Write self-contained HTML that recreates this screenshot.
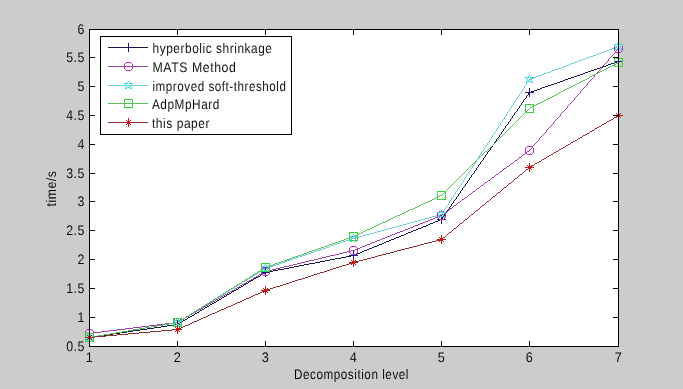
<!DOCTYPE html>
<html><head><meta charset="utf-8"><style>
html,body{margin:0;padding:0;background:#cccccc;}
body{width:683px;height:389px;overflow:hidden;}
svg{display:block;}
svg{will-change:transform;}
text{text-rendering:geometricPrecision;font-family:"Liberation Sans",sans-serif;font-size:12.0px;letter-spacing:0.55px;fill:#000;}
</style></head><body>
<svg width="683" height="389" viewBox="0 0 683 389">
<rect x="0" y="0" width="683" height="389" fill="#cccccc"/>
<rect x="89.5" y="29.5" width="529" height="317" fill="#ffffff"/>
<g shape-rendering="crispEdges">
<path d="M384 242h2v1h-2zM222 297h2v1h-2zM214 302h2v1h-2zM571 77h3v1h-3zM330 259h5v1h-5zM278 269h6v1h-6zM462 188h1v1h-1zM227 294h2v1h-2zM594 69h3v1h-3zM351 255h4v1h-4zM474 171h1v1h-1zM521 103h1v1h-1zM389 240h2v1h-2zM486 154h1v1h-1zM188 317h2v1h-2zM498 137h1v1h-1zM180 322h2v1h-2zM120 332h7v1h-7zM426 225h2v1h-2zM446 212h1v1h-1zM493 144h1v1h-1zM449 208h1v1h-1zM299 265h5v1h-5zM265 272h3v1h-3zM458 195h1v1h-1zM505 127h1v1h-1zM161 326h6v1h-6zM560 81h3v1h-3zM517 110h1v1h-1zM106 334h7v1h-7zM583 73h2v1h-2zM364 250h3v1h-3zM453 201h1v1h-1zM554 83h3v1h-3zM465 184h1v1h-1zM379 244h3v1h-3zM273 270h5v1h-5zM219 299h2v1h-2zM284 268h5v1h-5zM477 167h1v1h-1zM411 231h2v1h-2zM210 304h2v1h-2zM565 79h3v1h-3zM346 256h5v1h-5zM202 309h2v1h-2zM588 71h3v1h-3zM167 325h7v1h-7zM374 246h3v1h-3zM406 233h2v1h-2zM113 333h7v1h-7zM540 88h2v1h-2zM249 281h2v1h-2zM241 286h2v1h-2zM294 266h5v1h-5zM174 324h4v1h-4zM421 227h2v1h-2zM315 262h5v1h-5zM100 335h6v1h-6zM391 239h3v1h-3zM600 67h3v1h-3zM449 207h1v1h-1zM551 84h3v1h-3zM93 336h7v1h-7zM320 261h5v1h-5zM505 126h1v1h-1zM461 190h1v1h-1zM360 252h2v1h-2zM577 75h3v1h-3zM268 271h5v1h-5zM341 257h5v1h-5zM473 173h1v1h-1zM517 109h1v1h-1zM520 105h1v1h-1zM529 92h2v1h-2zM396 237h3v1h-3zM468 180h1v1h-1zM433 222h2v1h-2zM207 306h2v1h-2zM480 163h1v1h-1zM617 61h2v1h-2zM199 311h1v1h-1zM489 150h1v1h-1zM557 82h3v1h-3zM492 146h1v1h-1zM190 316h2v1h-2zM501 133h1v1h-1zM147 328h7v1h-7zM401 235h3v1h-3zM611 63h3v1h-3zM534 90h3v1h-3zM309 263h6v1h-6zM229 293h2v1h-2zM563 80h2v1h-2zM140 329h7v1h-7zM452 203h1v1h-1zM496 139h1v1h-1zM386 241h3v1h-3zM508 122h1v1h-1zM574 76h3v1h-3zM523 101h1v1h-1zM335 258h6v1h-6zM545 86h3v1h-3zM382 243h2v1h-2zM154 327h7v1h-7zM263 273h2v1h-2zM568 78h3v1h-3zM428 224h2v1h-2zM585 72h3v1h-3zM367 249h2v1h-2zM260 275h1v1h-1zM195 313h2v1h-2zM608 64h3v1h-3zM187 318h1v1h-1zM178 323h2v1h-2zM480 162h1v1h-1zM221 298h1v1h-1zM413 230h3v1h-3zM212 303h2v1h-2zM492 145h1v1h-1zM504 128h1v1h-1zM591 70h3v1h-3zM516 111h1v1h-1zM217 300h2v1h-2zM408 232h3v1h-3zM614 62h3v1h-3zM289 267h5v1h-5zM440 219h2v1h-2zM464 186h1v1h-1zM542 87h3v1h-3zM418 228h3v1h-3zM476 169h1v1h-1zM597 68h3v1h-3zM523 100h1v1h-1zM133 330h7v1h-7zM251 280h2v1h-2zM471 175h1v1h-1zM423 226h3v1h-3zM483 158h1v1h-1zM580 74h3v1h-3zM362 251h2v1h-2zM256 277h2v1h-2zM448 209h1v1h-1zM127 331h6v1h-6zM248 282h1v1h-1zM394 238h2v1h-2zM495 141h1v1h-1zM603 66h3v1h-3zM183 320h2v1h-2zM507 124h1v1h-1zM531 91h3v1h-3zM304 264h5v1h-5zM519 107h1v1h-1zM357 253h3v1h-3zM325 260h5v1h-5zM455 199h1v1h-1zM209 305h1v1h-1zM197 312h2v1h-2zM200 310h2v1h-2zM467 182h1v1h-1zM404 234h2v1h-2zM205 307h2v1h-2zM435 221h3v1h-3zM537 89h3v1h-3zM239 287h2v1h-2zM416 229h2v1h-2zM244 284h2v1h-2zM236 289h2v1h-2zM89 337h4v1h-4zM548 85h3v1h-3zM261 274h2v1h-2zM185 319h2v1h-2zM519 106h1v1h-1zM467 181h1v1h-1zM514 113h1v1h-1zM430 223h3v1h-3zM369 248h3v1h-3zM479 164h1v1h-1zM526 96h1v1h-1zM491 147h1v1h-1zM494 143h1v1h-1zM503 130h1v1h-1zM442 218h1v1h-1zM451 205h1v1h-1zM510 120h1v1h-1zM232 291h2v1h-2zM224 296h2v1h-2zM458 194h1v1h-1zM258 276h2v1h-2zM470 177h1v1h-1zM482 160h1v1h-1zM606 65h2v1h-2zM438 220h2v1h-2zM494 142h1v1h-1zM442 217h1v1h-1zM216 301h1v1h-1zM451 204h1v1h-1zM454 200h1v1h-1zM463 187h1v1h-1zM510 119h1v1h-1zM466 183h1v1h-1zM377 245h2v1h-2zM513 115h1v1h-1zM522 102h1v1h-1zM478 166h1v1h-1zM525 98h1v1h-1zM254 278h2v1h-2zM490 149h1v1h-1zM246 283h2v1h-2zM485 156h1v1h-1zM445 213h1v1h-1zM372 247h2v1h-2zM457 196h1v1h-1zM501 132h1v1h-1zM469 179h1v1h-1zM528 94h1v1h-1zM204 308h1v1h-1zM238 288h1v1h-1zM234 290h2v1h-2zM485 155h1v1h-1zM497 138h1v1h-1zM509 121h1v1h-1zM521 104h1v1h-1zM399 236h2v1h-2zM469 178h1v1h-1zM481 161h1v1h-1zM528 93h1v1h-1zM226 295h1v1h-1zM476 168h1v1h-1zM488 151h1v1h-1zM453 202h1v1h-1zM500 134h1v1h-1zM465 185h1v1h-1zM512 117h1v1h-1zM460 192h1v1h-1zM253 279h1v1h-1zM444 215h1v1h-1zM456 198h1v1h-1zM194 314h1v1h-1zM512 116h1v1h-1zM524 99h1v1h-1zM460 191h1v1h-1zM472 174h1v1h-1zM355 254h2v1h-2zM475 170h1v1h-1zM484 157h1v1h-1zM487 153h1v1h-1zM496 140h1v1h-1zM499 136h1v1h-1zM508 123h1v1h-1zM447 211h1v1h-1zM444 214h1v1h-1zM456 197h1v1h-1zM182 321h1v1h-1zM503 129h1v1h-1zM506 125h1v1h-1zM515 112h1v1h-1zM527 95h1v1h-1zM487 152h1v1h-1zM499 135h1v1h-1zM511 118h1v1h-1zM243 285h1v1h-1zM447 210h1v1h-1zM459 193h1v1h-1zM471 176h1v1h-1zM518 108h1v1h-1zM483 159h1v1h-1zM478 165h1v1h-1zM490 148h1v1h-1zM502 131h1v1h-1zM450 206h1v1h-1zM462 189h1v1h-1zM474 172h1v1h-1zM192 315h2v1h-2zM443 216h1v1h-1zM514 114h1v1h-1zM231 292h1v1h-1zM526 97h1v1h-1z" fill="#16164c"/>
<path d="M547 129h1v1h-1zM276 268h4v1h-4zM567 107h1v1h-1zM500 171h2v1h-2zM570 103h1v1h-1zM523 154h2v1h-2zM89 333h4v1h-4zM606 62h1v1h-1zM425 221h3v1h-3zM504 168h2v1h-2zM527 151h2v1h-2zM400 231h3v1h-3zM239 286h1v1h-1zM410 227h3v1h-3zM265 271h3v1h-3zM125 328h8v1h-8zM457 203h1v1h-1zM199 309h2v1h-2zM598 71h1v1h-1zM539 138h1v1h-1zM461 200h1v1h-1zM204 306h2v1h-2zM405 229h3v1h-3zM559 116h1v1h-1zM117 329h8v1h-8zM133 327h8v1h-8zM196 311h1v1h-1zM442 214h2v1h-2zM351 250h4v1h-4zM165 323h8v1h-8zM230 291h2v1h-2zM420 223h3v1h-3zM531 148h1v1h-1zM101 331h8v1h-8zM609 58h1v1h-1zM335 254h4v1h-4zM157 324h8v1h-8zM93 332h8v1h-8zM322 257h4v1h-4zM567 106h1v1h-1zM590 80h1v1h-1zM339 253h4v1h-4zM141 326h8v1h-8zM395 233h2v1h-2zM256 276h2v1h-2zM173 322h5v1h-5zM365 245h2v1h-2zM284 266h5v1h-5zM476 189h1v1h-1zM433 218h2v1h-2zM261 273h2v1h-2zM562 112h1v1h-1zM109 330h8v1h-8zM499 172h1v1h-1zM253 278h1v1h-1zM301 262h4v1h-4zM187 316h2v1h-2zM380 239h2v1h-2zM480 186h1v1h-1zM465 197h2v1h-2zM601 67h1v1h-1zM347 251h4v1h-4zM446 211h2v1h-2zM192 313h2v1h-2zM438 216h2v1h-2zM469 194h2v1h-2zM184 318h1v1h-1zM375 241h2v1h-2zM149 325h8v1h-8zM272 269h4v1h-4zM582 89h1v1h-1zM593 77h1v1h-1zM309 260h5v1h-5zM206 305h2v1h-2zM289 265h4v1h-4zM197 310h2v1h-2zM355 249h2v1h-2zM554 121h1v1h-1zM574 99h1v1h-1zM577 95h1v1h-1zM218 298h2v1h-2zM613 54h1v1h-1zM244 283h2v1h-2zM297 263h4v1h-4zM360 247h2v1h-2zM546 131h1v1h-1zM549 127h1v1h-1zM518 158h1v1h-1zM428 220h2v1h-2zM503 169h1v1h-1zM249 280h2v1h-2zM397 232h3v1h-3zM484 183h1v1h-1zM585 86h1v1h-1zM240 285h2v1h-2zM608 60h1v1h-1zM507 166h2v1h-2zM488 180h2v1h-2zM305 261h4v1h-4zM511 163h2v1h-2zM180 320h2v1h-2zM330 255h5v1h-5zM408 228h2v1h-2zM448 210h1v1h-1zM194 312h2v1h-2zM440 215h2v1h-2zM268 270h4v1h-4zM377 240h3v1h-3zM418 224h2v1h-2zM538 140h1v1h-1zM616 50h1v1h-1zM452 207h1v1h-1zM387 236h3v1h-3zM293 264h4v1h-4zM413 226h2v1h-2zM318 258h4v1h-4zM382 238h3v1h-3zM522 155h1v1h-1zM232 290h2v1h-2zM392 234h3v1h-3zM526 152h1v1h-1zM546 130h1v1h-1zM237 287h2v1h-2zM280 267h4v1h-4zM569 104h1v1h-1zM228 292h2v1h-2zM367 244h3v1h-3zM530 149h1v1h-1zM605 63h1v1h-1zM608 59h1v1h-1zM541 136h1v1h-1zM467 196h1v1h-1zM490 179h1v1h-1zM190 314h2v1h-2zM580 91h1v1h-1zM435 217h3v1h-3zM600 69h1v1h-1zM263 272h2v1h-2zM603 65h1v1h-1zM182 319h2v1h-2zM372 242h3v1h-3zM471 193h1v1h-1zM456 204h1v1h-1zM494 176h1v1h-1zM475 190h1v1h-1zM259 274h2v1h-2zM561 113h1v1h-1zM533 145h1v1h-1zM415 225h3v1h-3zM553 123h1v1h-1zM385 237h2v1h-2zM225 294h2v1h-2zM362 246h3v1h-3zM592 78h1v1h-1zM216 299h2v1h-2zM615 52h1v1h-1zM251 279h2v1h-2zM357 248h3v1h-3zM509 165h1v1h-1zM564 110h1v1h-1zM587 84h1v1h-1zM430 219h3v1h-3zM178 321h2v1h-2zM513 162h1v1h-1zM498 173h1v1h-1zM326 256h4v1h-4zM479 187h1v1h-1zM545 132h1v1h-1zM502 170h1v1h-1zM584 87h1v1h-1zM595 74h1v1h-1zM556 119h1v1h-1zM314 259h4v1h-4zM221 296h2v1h-2zM213 301h2v1h-2zM553 122h1v1h-1zM247 281h2v1h-2zM235 288h2v1h-2zM551 125h1v1h-1zM227 293h1v1h-1zM615 51h1v1h-1zM548 128h1v1h-1zM517 159h1v1h-1zM423 222h2v1h-2zM532 147h1v1h-1zM587 83h1v1h-1zM607 61h1v1h-1zM521 156h1v1h-1zM370 243h2v1h-2zM450 208h2v1h-2zM579 93h1v1h-1zM473 191h2v1h-2zM618 48h1v1h-1zM454 205h2v1h-2zM540 137h1v1h-1zM209 303h2v1h-2zM189 315h1v1h-1zM599 70h1v1h-1zM223 295h2v1h-2zM215 300h1v1h-1zM571 102h1v1h-1zM594 76h1v1h-1zM610 57h1v1h-1zM543 134h1v1h-1zM566 108h1v1h-1zM403 230h2v1h-2zM492 177h2v1h-2zM477 188h2v1h-2zM458 202h2v1h-2zM258 275h1v1h-1zM343 252h4v1h-4zM481 185h2v1h-2zM462 199h2v1h-2zM563 111h1v1h-1zM574 98h1v1h-1zM211 302h2v1h-2zM535 143h1v1h-1zM203 307h1v1h-1zM558 117h1v1h-1zM515 160h2v1h-2zM594 75h1v1h-1zM496 174h2v1h-2zM519 157h2v1h-2zM254 277h2v1h-2zM586 85h1v1h-1zM246 282h1v1h-1zM602 66h1v1h-1zM597 72h1v1h-1zM445 212h1v1h-1zM555 120h1v1h-1zM449 209h1v1h-1zM578 94h1v1h-1zM550 126h1v1h-1zM390 235h2v1h-2zM573 100h1v1h-1zM589 81h1v1h-1zM242 284h2v1h-2zM234 289h1v1h-1zM460 201h1v1h-1zM483 184h1v1h-1zM506 167h1v1h-1zM464 198h1v1h-1zM487 181h1v1h-1zM542 135h1v1h-1zM617 49h1v1h-1zM468 195h1v1h-1zM453 206h1v1h-1zM565 109h1v1h-1zM601 68h1v1h-1zM537 141h1v1h-1zM612 55h1v1h-1zM525 153h1v1h-1zM491 178h1v1h-1zM581 90h1v1h-1zM604 64h1v1h-1zM472 192h1v1h-1zM495 175h1v1h-1zM201 308h2v1h-2zM576 96h1v1h-1zM534 144h1v1h-1zM557 118h1v1h-1zM596 73h1v1h-1zM529 150h1v1h-1zM532 146h1v1h-1zM552 124h1v1h-1zM510 164h1v1h-1zM568 105h1v1h-1zM514 161h1v1h-1zM560 115h1v1h-1zM185 317h2v1h-2zM544 133h1v1h-1zM444 213h1v1h-1zM580 92h1v1h-1zM591 79h1v1h-1zM220 297h1v1h-1zM588 82h1v1h-1zM611 56h1v1h-1zM485 182h2v1h-2zM560 114h1v1h-1zM583 88h1v1h-1zM539 139h1v1h-1zM614 53h1v1h-1zM536 142h1v1h-1zM208 304h1v1h-1zM572 101h1v1h-1zM575 97h1v1h-1z" fill="#9c44a8"/>
<path d="M343 241h3v1h-3zM265 268h2v1h-2zM287 260h3v1h-3zM169 323h6v1h-6zM261 270h2v1h-2zM463 180h1v1h-1zM486 145h1v1h-1zM466 176h1v1h-1zM122 331h6v1h-6zM587 57h3v1h-3zM366 234h4v1h-4zM349 239h3v1h-3zM157 325h6v1h-6zM526 83h1v1h-1zM299 256h3v1h-3zM571 63h3v1h-3zM211 301h2v1h-2zM470 169h1v1h-1zM450 200h1v1h-1zM473 165h1v1h-1zM311 252h3v1h-3zM593 55h3v1h-3zM355 237h4v1h-4zM282 262h3v1h-3zM128 330h5v1h-5zM513 103h1v1h-1zM305 254h3v1h-3zM522 90h1v1h-1zM410 222h4v1h-4zM457 189h1v1h-1zM544 73h3v1h-3zM163 324h6v1h-6zM253 275h2v1h-2zM392 227h4v1h-4zM446 207h1v1h-1zM133 329h6v1h-6zM245 280h2v1h-2zM363 235h3v1h-3zM429 217h3v1h-3zM258 272h2v1h-2zM614 47h3v1h-3zM151 326h6v1h-6zM250 277h2v1h-2zM529 79h2v1h-2zM509 110h1v1h-1zM582 59h3v1h-3zM323 248h3v1h-3zM555 69h3v1h-3zM453 196h1v1h-1zM609 49h3v1h-3zM399 225h4v1h-4zM145 327h6v1h-6zM273 265h3v1h-3zM566 65h3v1h-3zM317 250h3v1h-3zM199 308h2v1h-2zM493 134h1v1h-1zM516 99h1v1h-1zM191 313h2v1h-2zM374 232h3v1h-3zM92 336h6v1h-6zM183 318h2v1h-2zM267 267h3v1h-3zM334 244h3v1h-3zM482 151h1v1h-1zM110 333h6v1h-6zM237 285h2v1h-2zM539 75h3v1h-3zM217 297h2v1h-2zM480 154h1v1h-1zM209 302h2v1h-2zM489 141h1v1h-1zM242 282h1v1h-1zM525 85h1v1h-1zM381 230h4v1h-4zM234 287h1v1h-1zM222 294h2v1h-2zM340 242h3v1h-3zM469 171h1v1h-1zM449 202h1v1h-1zM436 215h4v1h-4zM290 259h3v1h-3zM418 220h3v1h-3zM175 322h3v1h-3zM116 332h6v1h-6zM260 271h1v1h-1zM476 161h1v1h-1zM314 251h3v1h-3zM509 109h1v1h-1zM521 92h1v1h-1zM552 70h3v1h-3zM370 233h4v1h-4zM453 195h1v1h-1zM346 240h3v1h-3zM558 68h3v1h-3zM188 315h2v1h-2zM104 334h6v1h-6zM180 320h2v1h-2zM296 257h3v1h-3zM425 218h4v1h-4zM329 246h2v1h-2zM536 76h3v1h-3zM590 56h3v1h-3zM505 116h1v1h-1zM201 307h2v1h-2zM528 81h1v1h-1zM352 238h3v1h-3zM193 312h2v1h-2zM279 263h3v1h-3zM226 292h1v1h-1zM563 66h3v1h-3zM214 299h2v1h-2zM206 304h2v1h-2zM302 255h3v1h-3zM531 78h3v1h-3zM198 309h1v1h-1zM230 289h2v1h-2zM574 62h3v1h-3zM489 140h1v1h-1zM512 105h1v1h-1zM547 72h3v1h-3zM492 136h1v1h-1zM252 276h1v1h-1zM601 52h3v1h-3zM359 236h4v1h-4zM243 281h2v1h-2zM569 64h2v1h-2zM235 286h2v1h-2zM456 191h1v1h-1zM612 48h2v1h-2zM308 253h3v1h-3zM407 223h3v1h-3zM248 278h2v1h-2zM98 335h6v1h-6zM585 58h2v1h-2zM496 129h1v1h-1zM476 160h1v1h-1zM499 125h1v1h-1zM139 328h6v1h-6zM606 50h3v1h-3zM432 216h4v1h-4zM617 46h2v1h-2zM388 228h4v1h-4zM190 314h1v1h-1zM483 149h1v1h-1zM182 319h1v1h-1zM472 167h1v1h-1zM528 80h1v1h-1zM440 214h2v1h-2zM421 219h4v1h-4zM452 197h1v1h-1zM396 226h3v1h-3zM542 74h2v1h-2zM596 54h2v1h-2zM377 231h4v1h-4zM240 283h2v1h-2zM337 243h3v1h-3zM232 288h2v1h-2zM479 156h1v1h-1zM459 187h1v1h-1zM492 135h1v1h-1zM224 293h2v1h-2zM524 87h1v1h-1zM579 60h3v1h-3zM448 204h1v1h-1zM320 249h3v1h-3zM385 229h3v1h-3zM443 211h1v1h-1zM270 266h3v1h-3zM508 111h1v1h-1zM488 142h1v1h-1zM511 107h1v1h-1zM293 258h3v1h-3zM577 61h2v1h-2zM186 316h2v1h-2zM178 321h2v1h-2zM326 247h3v1h-3zM414 221h4v1h-4zM276 264h3v1h-3zM515 100h1v1h-1zM472 166h1v1h-1zM89 337h3v1h-3zM495 131h1v1h-1zM475 162h1v1h-1zM561 67h2v1h-2zM216 298h1v1h-1zM208 303h1v1h-1zM502 121h1v1h-1zM598 53h3v1h-3zM479 155h1v1h-1zM459 186h1v1h-1zM502 120h1v1h-1zM403 224h4v1h-4zM491 138h1v1h-1zM550 71h2v1h-2zM604 51h2v1h-2zM466 175h1v1h-1zM498 127h1v1h-1zM455 193h1v1h-1zM478 158h1v1h-1zM534 77h2v1h-2zM518 96h1v1h-1zM204 305h2v1h-2zM196 310h2v1h-2zM462 182h1v1h-1zM442 213h1v1h-1zM527 82h1v1h-1zM522 89h1v1h-1zM446 206h1v1h-1zM285 261h2v1h-2zM491 137h1v1h-1zM494 133h1v1h-1zM239 284h1v1h-1zM478 157h1v1h-1zM498 126h1v1h-1zM485 147h1v1h-1zM442 212h1v1h-1zM474 164h1v1h-1zM514 102h1v1h-1zM449 201h1v1h-1zM458 188h1v1h-1zM481 153h1v1h-1zM331 245h3v1h-3zM461 184h1v1h-1zM227 291h2v1h-2zM521 91h1v1h-1zM465 177h1v1h-1zM445 208h1v1h-1zM485 146h1v1h-1zM517 98h1v1h-1zM219 296h2v1h-2zM501 122h1v1h-1zM504 118h1v1h-1zM203 306h1v1h-1zM481 152h1v1h-1zM461 183h1v1h-1zM257 273h1v1h-1zM468 173h1v1h-1zM477 159h1v1h-1zM457 190h1v1h-1zM517 97h1v1h-1zM497 128h1v1h-1zM520 93h1v1h-1zM195 311h1v1h-1zM524 86h1v1h-1zM504 117h1v1h-1zM448 203h1v1h-1zM229 290h1v1h-1zM511 106h1v1h-1zM468 172h1v1h-1zM500 124h1v1h-1zM444 210h1v1h-1zM484 148h1v1h-1zM507 113h1v1h-1zM464 179h1v1h-1zM487 144h1v1h-1zM221 295h1v1h-1zM213 300h1v1h-1zM471 168h1v1h-1zM263 269h2v1h-2zM455 192h1v1h-1zM255 274h2v1h-2zM500 123h1v1h-1zM523 88h1v1h-1zM444 209h1v1h-1zM451 199h1v1h-1zM507 112h1v1h-1zM464 178h1v1h-1zM487 143h1v1h-1zM496 130h1v1h-1zM519 95h1v1h-1zM185 317h1v1h-1zM494 132h1v1h-1zM503 119h1v1h-1zM460 185h1v1h-1zM247 279h1v1h-1zM483 150h1v1h-1zM506 115h1v1h-1zM467 174h1v1h-1zM447 205h1v1h-1zM490 139h1v1h-1zM451 198h1v1h-1zM474 163h1v1h-1zM454 194h1v1h-1zM463 181h1v1h-1zM519 94h1v1h-1zM526 84h1v1h-1zM470 170h1v1h-1zM506 114h1v1h-1zM515 101h1v1h-1zM510 108h1v1h-1zM513 104h1v1h-1z" fill="#6ed0d4"/>
<path d="M612 65h2v1h-2zM318 248h3v1h-3zM395 216h2v1h-2zM505 132h1v1h-1zM438 196h2v1h-2zM571 86h2v1h-2zM270 265h3v1h-3zM169 323h6v1h-6zM474 162h1v1h-1zM443 193h1v1h-1zM430 200h2v1h-2zM122 331h6v1h-6zM357 234h2v1h-2zM400 214h2v1h-2zM157 325h6v1h-6zM585 79h2v1h-2zM493 144h1v1h-1zM275 263h3v1h-3zM406 211h2v1h-2zM341 240h3v1h-3zM590 76h2v1h-2zM372 227h2v1h-2zM581 81h2v1h-2zM462 174h1v1h-1zM292 257h3v1h-3zM540 102h2v1h-2zM128 330h5v1h-5zM261 269h2v1h-2zM315 249h3v1h-3zM367 229h3v1h-3zM521 116h1v1h-1zM253 274h2v1h-2zM410 209h3v1h-3zM346 238h3v1h-3zM287 259h3v1h-3zM608 67h2v1h-2zM391 218h2v1h-2zM163 324h6v1h-6zM133 329h6v1h-6zM567 88h2v1h-2zM265 267h2v1h-2zM481 155h1v1h-1zM450 186h1v1h-1zM387 220h2v1h-2zM425 202h3v1h-3zM151 326h6v1h-6zM352 236h3v1h-3zM563 90h2v1h-2zM509 128h1v1h-1zM304 253h3v1h-3zM145 327h6v1h-6zM500 137h1v1h-1zM327 245h2v1h-2zM402 213h2v1h-2zM469 167h1v1h-1zM199 308h2v1h-2zM577 83h2v1h-2zM191 313h2v1h-2zM92 336h6v1h-6zM183 318h2v1h-2zM536 104h2v1h-2zM528 109h1v1h-1zM309 251h3v1h-3zM497 140h1v1h-1zM110 333h6v1h-6zM421 204h2v1h-2zM604 69h2v1h-2zM488 149h1v1h-1zM338 241h3v1h-3zM457 179h1v1h-1zM554 95h2v1h-2zM349 237h3v1h-3zM221 294h2v1h-2zM600 71h2v1h-2zM382 222h3v1h-3zM321 247h3v1h-3zM559 92h2v1h-2zM516 121h1v1h-1zM550 97h2v1h-2zM344 239h2v1h-2zM267 266h3v1h-3zM175 322h3v1h-3zM116 332h6v1h-6zM432 199h2v1h-2zM295 256h3v1h-3zM565 89h2v1h-2zM397 215h3v1h-3zM445 191h1v1h-1zM573 85h2v1h-2zM188 315h1v1h-1zM104 334h6v1h-6zM180 320h1v1h-1zM278 262h3v1h-3zM504 133h1v1h-1zM569 87h2v1h-2zM417 206h2v1h-2zM332 243h3v1h-3zM213 299h2v1h-2zM542 101h2v1h-2zM205 304h2v1h-2zM237 284h2v1h-2zM197 309h2v1h-2zM284 260h3v1h-3zM229 289h2v1h-2zM370 228h2v1h-2zM413 208h2v1h-2zM218 296h2v1h-2zM596 73h2v1h-2zM210 301h2v1h-2zM523 114h1v1h-1zM492 145h1v1h-1zM546 99h2v1h-2zM263 268h2v1h-2zM255 273h2v1h-2zM247 278h2v1h-2zM428 201h2v1h-2zM290 258h2v1h-2zM98 335h6v1h-6zM561 91h2v1h-2zM452 184h1v1h-1zM260 270h1v1h-1zM476 160h1v1h-1zM312 250h3v1h-3zM139 328h6v1h-6zM616 63h2v1h-2zM301 254h3v1h-3zM511 126h1v1h-1zM329 244h3v1h-3zM579 82h2v1h-2zM189 314h2v1h-2zM181 319h2v1h-2zM538 103h2v1h-2zM202 306h2v1h-2zM464 172h1v1h-1zM194 311h2v1h-2zM226 291h2v1h-2zM592 75h2v1h-2zM335 242h3v1h-3zM499 138h1v1h-1zM239 283h2v1h-2zM231 288h2v1h-2zM598 72h2v1h-2zM223 293h2v1h-2zM252 275h1v1h-1zM244 280h1v1h-1zM236 285h1v1h-1zM483 153h1v1h-1zM548 98h2v1h-2zM487 150h1v1h-1zM324 246h3v1h-3zM575 84h2v1h-2zM186 316h2v1h-2zM178 321h2v1h-2zM534 105h2v1h-2zM471 165h1v1h-1zM298 255h3v1h-3zM89 337h3v1h-3zM440 195h2v1h-2zM506 131h1v1h-1zM530 107h2v1h-2zM215 298h2v1h-2zM207 303h2v1h-2zM281 261h3v1h-3zM228 290h1v1h-1zM594 74h2v1h-2zM220 295h1v1h-1zM459 177h1v1h-1zM544 100h2v1h-2zM456 180h1v1h-1zM494 143h1v1h-1zM518 119h1v1h-1zM378 224h2v1h-2zM618 62h1v1h-1zM478 158h1v1h-1zM447 189h1v1h-1zM444 192h1v1h-1zM436 197h2v1h-2zM212 300h1v1h-1zM363 231h2v1h-2zM204 305h1v1h-1zM196 310h1v1h-1zM532 106h2v1h-2zM466 170h1v1h-1zM587 78h2v1h-2zM525 112h1v1h-1zM245 279h2v1h-2zM374 226h2v1h-2zM258 271h2v1h-2zM250 276h2v1h-2zM614 64h2v1h-2zM454 182h1v1h-1zM423 203h2v1h-2zM610 66h2v1h-2zM513 124h1v1h-1zM273 264h2v1h-2zM393 217h2v1h-2zM385 221h2v1h-2zM473 163h1v1h-1zM442 194h1v1h-1zM365 230h2v1h-2zM408 210h2v1h-2zM583 80h2v1h-2zM463 173h1v1h-1zM193 312h1v1h-1zM307 252h2v1h-2zM242 281h2v1h-2zM404 212h2v1h-2zM234 286h2v1h-2zM461 175h1v1h-1zM485 151h2v1h-2zM419 205h2v1h-2zM482 154h1v1h-1zM451 185h1v1h-1zM520 117h1v1h-1zM606 68h2v1h-2zM389 219h2v1h-2zM449 187h1v1h-1zM501 136h1v1h-1zM361 232h2v1h-2zM470 166h1v1h-1zM380 223h2v1h-2zM589 77h1v1h-1zM489 148h1v1h-1zM458 178h1v1h-1zM376 225h2v1h-2zM415 207h2v1h-2zM508 129h1v1h-1zM480 156h1v1h-1zM434 198h2v1h-2zM477 159h1v1h-1zM446 190h1v1h-1zM558 93h1v1h-1zM527 110h1v1h-1zM496 141h1v1h-1zM468 168h1v1h-1zM465 171h1v1h-1zM524 113h1v1h-1zM515 122h1v1h-1zM257 272h1v1h-1zM249 277h1v1h-1zM241 282h1v1h-1zM453 183h1v1h-1zM512 125h1v1h-1zM503 134h1v1h-1zM475 161h1v1h-1zM359 233h2v1h-2zM491 146h1v1h-1zM233 287h1v1h-1zM225 292h1v1h-1zM217 297h1v1h-1zM484 152h1v1h-1zM519 118h1v1h-1zM448 188h1v1h-1zM355 235h2v1h-2zM472 164h1v1h-1zM507 130h1v1h-1zM185 317h1v1h-1zM209 302h1v1h-1zM498 139h1v1h-1zM201 307h1v1h-1zM522 115h1v1h-1zM460 176h1v1h-1zM495 142h1v1h-1zM552 96h2v1h-2zM510 127h1v1h-1zM556 94h2v1h-2zM479 157h1v1h-1zM602 70h2v1h-2zM529 108h1v1h-1zM467 169h1v1h-1zM502 135h1v1h-1zM526 111h1v1h-1zM517 120h1v1h-1zM455 181h1v1h-1zM490 147h1v1h-1zM514 123h1v1h-1z" fill="#5ebe5e"/>
<path d="M457 226h1v1h-1zM394 251h3v1h-3zM298 279h4v1h-4zM446 235h1v1h-1zM276 286h4v1h-4zM150 331h11v1h-11zM375 256h3v1h-3zM436 240h4v1h-4zM547 156h2v1h-2zM117 334h11v1h-11zM539 161h2v1h-2zM460 223h2v1h-2zM181 327h2v1h-2zM333 268h3v1h-3zM311 275h3v1h-3zM561 148h2v1h-2zM260 292h2v1h-2zM95 336h11v1h-11zM401 249h4v1h-4zM305 277h3v1h-3zM382 254h4v1h-4zM221 309h3v1h-3zM424 243h4v1h-4zM573 141h2v1h-2zM339 266h3v1h-3zM231 305h2v1h-2zM492 197h1v1h-1zM161 330h11v1h-11zM599 126h2v1h-2zM270 288h3v1h-3zM464 220h1v1h-1zM363 259h4v1h-4zM172 329h7v1h-7zM295 280h3v1h-3zM346 264h3v1h-3zM604 123h2v1h-2zM106 335h11v1h-11zM206 316h2v1h-2zM432 241h4v1h-4zM595 128h2v1h-2zM468 217h1v1h-1zM530 166h2v1h-2zM413 246h4v1h-4zM352 262h3v1h-3zM226 307h2v1h-2zM440 239h2v1h-2zM503 188h1v1h-1zM549 155h2v1h-2zM255 294h3v1h-3zM420 244h4v1h-4zM283 284h3v1h-3zM217 311h2v1h-2zM507 185h1v1h-1zM496 194h1v1h-1zM317 273h3v1h-3zM511 182h1v1h-1zM359 260h4v1h-4zM128 333h11v1h-11zM479 208h1v1h-1zM587 133h2v1h-2zM409 247h4v1h-4zM493 196h2v1h-2zM237 302h3v1h-3zM289 282h3v1h-3zM482 205h2v1h-2zM267 289h3v1h-3zM471 214h2v1h-2zM592 130h2v1h-2zM583 135h2v1h-2zM314 274h3v1h-3zM324 271h3v1h-3zM609 120h2v1h-2zM541 160h1v1h-1zM390 252h4v1h-4zM532 165h2v1h-2zM371 257h4v1h-4zM525 170h1v1h-1zM514 179h1v1h-1zM330 269h3v1h-3zM537 162h2v1h-2zM183 326h2v1h-2zM448 233h1v1h-1zM518 176h1v1h-1zM212 313h3v1h-3zM397 250h4v1h-4zM452 230h1v1h-1zM378 255h4v1h-4zM179 328h2v1h-2zM286 283h3v1h-3zM336 267h3v1h-3zM575 140h2v1h-2zM233 304h2v1h-2zM139 332h11v1h-11zM580 137h2v1h-2zM308 276h3v1h-3zM194 321h3v1h-3zM386 253h4v1h-4zM228 306h3v1h-3zM614 117h2v1h-2zM367 258h4v1h-4zM428 242h4v1h-4zM342 265h4v1h-4zM606 122h1v1h-1zM594 129h1v1h-1zM89 337h6v1h-6zM529 167h1v1h-1zM273 287h3v1h-3zM203 317h3v1h-3zM244 299h2v1h-2zM459 224h1v1h-1zM522 173h1v1h-1zM355 261h4v1h-4zM417 245h3v1h-3zM456 227h1v1h-1zM258 293h2v1h-2zM280 285h3v1h-3zM571 142h2v1h-2zM563 147h2v1h-2zM551 154h2v1h-2zM498 192h2v1h-2zM190 323h2v1h-2zM405 248h4v1h-4zM568 144h2v1h-2zM224 308h2v1h-2zM502 189h1v1h-1zM602 124h2v1h-2zM470 215h1v1h-1zM590 131h2v1h-2zM320 272h4v1h-4zM582 136h1v1h-1zM474 212h1v1h-1zM463 221h1v1h-1zM240 301h2v1h-2zM292 281h3v1h-3zM478 209h1v1h-1zM467 218h1v1h-1zM349 263h3v1h-3zM327 270h3v1h-3zM235 303h2v1h-2zM449 232h2v1h-2zM215 312h2v1h-2zM559 149h2v1h-2zM520 174h2v1h-2zM509 183h2v1h-2zM185 325h3v1h-3zM513 180h1v1h-1zM544 158h2v1h-2zM264 290h3v1h-3zM578 138h2v1h-2zM570 143h1v1h-1zM485 203h1v1h-1zM197 320h2v1h-2zM201 318h2v1h-2zM616 116h2v1h-2zM535 163h2v1h-2zM246 298h3v1h-3zM524 171h1v1h-1zM613 118h1v1h-1zM251 296h2v1h-2zM528 168h1v1h-1zM454 228h2v1h-2zM500 191h1v1h-1zM489 200h1v1h-1zM192 322h2v1h-2zM566 145h2v1h-2zM558 150h1v1h-1zM262 291h2v1h-2zM242 300h2v1h-2zM465 219h2v1h-2zM601 125h1v1h-1zM469 216h1v1h-1zM458 225h1v1h-1zM302 278h3v1h-3zM473 213h1v1h-1zM208 315h2v1h-2zM253 295h2v1h-2zM188 324h2v1h-2zM445 236h1v1h-1zM554 152h2v1h-2zM504 187h2v1h-2zM487 201h2v1h-2zM476 210h2v1h-2zM199 319h2v1h-2zM480 207h1v1h-1zM597 127h2v1h-2zM589 132h1v1h-1zM577 139h1v1h-1zM611 119h2v1h-2zM546 157h1v1h-1zM249 297h2v1h-2zM515 178h2v1h-2zM542 159h2v1h-2zM210 314h2v1h-2zM519 175h1v1h-1zM219 310h2v1h-2zM491 198h1v1h-1zM506 186h1v1h-1zM495 195h1v1h-1zM484 204h1v1h-1zM607 121h2v1h-2zM534 164h1v1h-1zM526 169h2v1h-2zM556 151h2v1h-2zM475 211h1v1h-1zM517 177h1v1h-1zM443 237h2v1h-2zM447 234h1v1h-1zM553 153h1v1h-1zM486 202h1v1h-1zM490 199h1v1h-1zM462 222h1v1h-1zM451 231h1v1h-1zM618 115h1v1h-1zM497 193h1v1h-1zM508 184h1v1h-1zM523 172h1v1h-1zM512 181h1v1h-1zM501 190h1v1h-1zM442 238h1v1h-1zM585 134h2v1h-2zM565 146h1v1h-1zM481 206h1v1h-1zM453 229h1v1h-1z" fill="#8e2e30"/>
<path d="M85 337h1v1h-1zM86 337h1v1h-1zM87 337h1v1h-1zM88 337h1v1h-1zM89 333h1v1h-1zM89 334h1v1h-1zM89 335h1v1h-1zM89 336h1v1h-1zM89 337h1v1h-1zM89 338h1v1h-1zM89 339h1v1h-1zM89 340h1v1h-1zM89 341h1v1h-1zM90 337h1v1h-1zM91 337h1v1h-1zM92 337h1v1h-1zM93 337h1v1h-1zM173 324h1v1h-1zM174 324h1v1h-1zM175 324h1v1h-1zM176 324h1v1h-1zM177 320h1v1h-1zM177 321h1v1h-1zM177 322h1v1h-1zM177 323h1v1h-1zM177 324h1v1h-1zM177 325h1v1h-1zM177 326h1v1h-1zM177 327h1v1h-1zM177 328h1v1h-1zM178 324h1v1h-1zM179 324h1v1h-1zM180 324h1v1h-1zM181 324h1v1h-1zM261 272h1v1h-1zM262 272h1v1h-1zM263 272h1v1h-1zM264 272h1v1h-1zM265 268h1v1h-1zM265 269h1v1h-1zM265 270h1v1h-1zM265 271h1v1h-1zM265 272h1v1h-1zM265 273h1v1h-1zM265 274h1v1h-1zM265 275h1v1h-1zM265 276h1v1h-1zM266 272h1v1h-1zM267 272h1v1h-1zM268 272h1v1h-1zM269 272h1v1h-1zM349 255h1v1h-1zM350 255h1v1h-1zM351 255h1v1h-1zM352 255h1v1h-1zM353 251h1v1h-1zM353 252h1v1h-1zM353 253h1v1h-1zM353 254h1v1h-1zM353 255h1v1h-1zM353 256h1v1h-1zM353 257h1v1h-1zM353 258h1v1h-1zM353 259h1v1h-1zM354 255h1v1h-1zM355 255h1v1h-1zM356 255h1v1h-1zM357 255h1v1h-1zM437 219h1v1h-1zM438 219h1v1h-1zM439 219h1v1h-1zM440 219h1v1h-1zM441 215h1v1h-1zM441 216h1v1h-1zM441 217h1v1h-1zM441 218h1v1h-1zM441 219h1v1h-1zM441 220h1v1h-1zM441 221h1v1h-1zM441 222h1v1h-1zM441 223h1v1h-1zM442 219h1v1h-1zM443 219h1v1h-1zM444 219h1v1h-1zM445 219h1v1h-1zM525 92h1v1h-1zM526 92h1v1h-1zM527 92h1v1h-1zM528 92h1v1h-1zM529 88h1v1h-1zM529 89h1v1h-1zM529 90h1v1h-1zM529 91h1v1h-1zM529 92h1v1h-1zM529 93h1v1h-1zM529 94h1v1h-1zM529 95h1v1h-1zM529 96h1v1h-1zM530 92h1v1h-1zM531 92h1v1h-1zM532 92h1v1h-1zM533 92h1v1h-1zM614 61h1v1h-1zM615 61h1v1h-1zM616 61h1v1h-1zM617 61h1v1h-1zM618 57h1v1h-1zM618 58h1v1h-1zM618 59h1v1h-1zM618 60h1v1h-1zM618 61h1v1h-1zM618 62h1v1h-1zM618 63h1v1h-1zM618 64h1v1h-1zM618 65h1v1h-1zM619 61h1v1h-1zM620 61h1v1h-1zM621 61h1v1h-1zM622 61h1v1h-1z" fill="#1a1a78"/>
<path d="M85 331h1v1h-1zM85 332h1v1h-1zM85 333h1v1h-1zM85 334h1v1h-1zM85 335h1v1h-1zM86 330h1v1h-1zM86 336h1v1h-1zM87 329h1v1h-1zM87 337h1v1h-1zM88 329h1v1h-1zM88 337h1v1h-1zM89 329h1v1h-1zM89 337h1v1h-1zM90 329h1v1h-1zM90 337h1v1h-1zM91 329h1v1h-1zM91 337h1v1h-1zM92 330h1v1h-1zM92 336h1v1h-1zM93 331h1v1h-1zM93 332h1v1h-1zM93 333h1v1h-1zM93 334h1v1h-1zM93 335h1v1h-1zM173 320h1v1h-1zM173 321h1v1h-1zM173 322h1v1h-1zM173 323h1v1h-1zM173 324h1v1h-1zM174 319h1v1h-1zM174 325h1v1h-1zM175 318h1v1h-1zM175 326h1v1h-1zM176 318h1v1h-1zM176 326h1v1h-1zM177 318h1v1h-1zM177 326h1v1h-1zM178 318h1v1h-1zM178 326h1v1h-1zM179 318h1v1h-1zM179 326h1v1h-1zM180 319h1v1h-1zM180 325h1v1h-1zM181 320h1v1h-1zM181 321h1v1h-1zM181 322h1v1h-1zM181 323h1v1h-1zM181 324h1v1h-1zM261 269h1v1h-1zM261 270h1v1h-1zM261 271h1v1h-1zM261 272h1v1h-1zM261 273h1v1h-1zM262 268h1v1h-1zM262 274h1v1h-1zM263 267h1v1h-1zM263 275h1v1h-1zM264 267h1v1h-1zM264 275h1v1h-1zM265 267h1v1h-1zM265 275h1v1h-1zM266 267h1v1h-1zM266 275h1v1h-1zM267 267h1v1h-1zM267 275h1v1h-1zM268 268h1v1h-1zM268 274h1v1h-1zM269 269h1v1h-1zM269 270h1v1h-1zM269 271h1v1h-1zM269 272h1v1h-1zM269 273h1v1h-1zM349 248h1v1h-1zM349 249h1v1h-1zM349 250h1v1h-1zM349 251h1v1h-1zM349 252h1v1h-1zM350 247h1v1h-1zM350 253h1v1h-1zM351 246h1v1h-1zM351 254h1v1h-1zM352 246h1v1h-1zM352 254h1v1h-1zM353 246h1v1h-1zM353 254h1v1h-1zM354 246h1v1h-1zM354 254h1v1h-1zM355 246h1v1h-1zM355 254h1v1h-1zM356 247h1v1h-1zM356 253h1v1h-1zM357 248h1v1h-1zM357 249h1v1h-1zM357 250h1v1h-1zM357 251h1v1h-1zM357 252h1v1h-1zM437 213h1v1h-1zM437 214h1v1h-1zM437 215h1v1h-1zM437 216h1v1h-1zM437 217h1v1h-1zM438 212h1v1h-1zM438 218h1v1h-1zM439 211h1v1h-1zM439 219h1v1h-1zM440 211h1v1h-1zM440 219h1v1h-1zM441 211h1v1h-1zM441 219h1v1h-1zM442 211h1v1h-1zM442 219h1v1h-1zM443 211h1v1h-1zM443 219h1v1h-1zM444 212h1v1h-1zM444 218h1v1h-1zM445 213h1v1h-1zM445 214h1v1h-1zM445 215h1v1h-1zM445 216h1v1h-1zM445 217h1v1h-1zM525 148h1v1h-1zM525 149h1v1h-1zM525 150h1v1h-1zM525 151h1v1h-1zM525 152h1v1h-1zM526 147h1v1h-1zM526 153h1v1h-1zM527 146h1v1h-1zM527 154h1v1h-1zM528 146h1v1h-1zM528 154h1v1h-1zM529 146h1v1h-1zM529 154h1v1h-1zM530 146h1v1h-1zM530 154h1v1h-1zM531 146h1v1h-1zM531 154h1v1h-1zM532 147h1v1h-1zM532 153h1v1h-1zM533 148h1v1h-1zM533 149h1v1h-1zM533 150h1v1h-1zM533 151h1v1h-1zM533 152h1v1h-1zM614 46h1v1h-1zM614 47h1v1h-1zM614 48h1v1h-1zM614 49h1v1h-1zM614 50h1v1h-1zM615 45h1v1h-1zM615 51h1v1h-1zM616 44h1v1h-1zM616 52h1v1h-1zM617 44h1v1h-1zM617 52h1v1h-1zM618 44h1v1h-1zM618 52h1v1h-1zM619 44h1v1h-1zM619 52h1v1h-1zM620 44h1v1h-1zM620 52h1v1h-1zM621 45h1v1h-1zM621 51h1v1h-1zM622 46h1v1h-1zM622 47h1v1h-1zM622 48h1v1h-1zM622 49h1v1h-1zM622 50h1v1h-1z" fill="#be28c8"/>
<path d="M85 335h1v1h-1zM86 335h1v1h-1zM86 336h1v1h-1zM86 339h1v1h-1zM86 340h1v1h-1zM87 335h1v1h-1zM87 337h1v1h-1zM87 338h1v1h-1zM87 340h1v1h-1zM88 334h1v1h-1zM88 335h1v1h-1zM88 339h1v1h-1zM89 333h1v1h-1zM89 339h1v1h-1zM90 334h1v1h-1zM90 335h1v1h-1zM90 339h1v1h-1zM91 335h1v1h-1zM91 337h1v1h-1zM91 338h1v1h-1zM91 340h1v1h-1zM92 335h1v1h-1zM92 336h1v1h-1zM92 339h1v1h-1zM92 340h1v1h-1zM93 335h1v1h-1zM173 320h1v1h-1zM174 320h1v1h-1zM174 321h1v1h-1zM174 324h1v1h-1zM174 325h1v1h-1zM175 320h1v1h-1zM175 322h1v1h-1zM175 323h1v1h-1zM175 325h1v1h-1zM176 319h1v1h-1zM176 320h1v1h-1zM176 324h1v1h-1zM177 318h1v1h-1zM177 324h1v1h-1zM178 319h1v1h-1zM178 320h1v1h-1zM178 324h1v1h-1zM179 320h1v1h-1zM179 322h1v1h-1zM179 323h1v1h-1zM179 325h1v1h-1zM180 320h1v1h-1zM180 321h1v1h-1zM180 324h1v1h-1zM180 325h1v1h-1zM181 320h1v1h-1zM261 266h1v1h-1zM262 266h1v1h-1zM262 267h1v1h-1zM262 270h1v1h-1zM262 271h1v1h-1zM263 266h1v1h-1zM263 268h1v1h-1zM263 269h1v1h-1zM263 271h1v1h-1zM264 265h1v1h-1zM264 266h1v1h-1zM264 270h1v1h-1zM265 264h1v1h-1zM265 270h1v1h-1zM266 265h1v1h-1zM266 266h1v1h-1zM266 270h1v1h-1zM267 266h1v1h-1zM267 268h1v1h-1zM267 269h1v1h-1zM267 271h1v1h-1zM268 266h1v1h-1zM268 267h1v1h-1zM268 270h1v1h-1zM268 271h1v1h-1zM269 266h1v1h-1zM349 236h1v1h-1zM350 236h1v1h-1zM350 237h1v1h-1zM350 240h1v1h-1zM350 241h1v1h-1zM351 236h1v1h-1zM351 238h1v1h-1zM351 239h1v1h-1zM351 241h1v1h-1zM352 235h1v1h-1zM352 236h1v1h-1zM352 240h1v1h-1zM353 234h1v1h-1zM353 240h1v1h-1zM354 235h1v1h-1zM354 236h1v1h-1zM354 240h1v1h-1zM355 236h1v1h-1zM355 238h1v1h-1zM355 239h1v1h-1zM355 241h1v1h-1zM356 236h1v1h-1zM356 237h1v1h-1zM356 240h1v1h-1zM356 241h1v1h-1zM357 236h1v1h-1zM437 212h1v1h-1zM438 212h1v1h-1zM438 213h1v1h-1zM438 216h1v1h-1zM438 217h1v1h-1zM439 212h1v1h-1zM439 214h1v1h-1zM439 215h1v1h-1zM439 217h1v1h-1zM440 211h1v1h-1zM440 212h1v1h-1zM440 216h1v1h-1zM441 210h1v1h-1zM441 216h1v1h-1zM442 211h1v1h-1zM442 212h1v1h-1zM442 216h1v1h-1zM443 212h1v1h-1zM443 214h1v1h-1zM443 215h1v1h-1zM443 217h1v1h-1zM444 212h1v1h-1zM444 213h1v1h-1zM444 216h1v1h-1zM444 217h1v1h-1zM445 212h1v1h-1zM525 77h1v1h-1zM526 77h1v1h-1zM526 78h1v1h-1zM526 81h1v1h-1zM526 82h1v1h-1zM527 77h1v1h-1zM527 79h1v1h-1zM527 80h1v1h-1zM527 82h1v1h-1zM528 76h1v1h-1zM528 77h1v1h-1zM528 81h1v1h-1zM529 75h1v1h-1zM529 81h1v1h-1zM530 76h1v1h-1zM530 77h1v1h-1zM530 81h1v1h-1zM531 77h1v1h-1zM531 79h1v1h-1zM531 80h1v1h-1zM531 82h1v1h-1zM532 77h1v1h-1zM532 78h1v1h-1zM532 81h1v1h-1zM532 82h1v1h-1zM533 77h1v1h-1zM614 44h1v1h-1zM615 44h1v1h-1zM615 45h1v1h-1zM615 48h1v1h-1zM615 49h1v1h-1zM616 44h1v1h-1zM616 46h1v1h-1zM616 47h1v1h-1zM616 49h1v1h-1zM617 43h1v1h-1zM617 44h1v1h-1zM617 48h1v1h-1zM618 42h1v1h-1zM618 48h1v1h-1zM619 43h1v1h-1zM619 44h1v1h-1zM619 48h1v1h-1zM620 44h1v1h-1zM620 46h1v1h-1zM620 47h1v1h-1zM620 49h1v1h-1zM621 44h1v1h-1zM621 45h1v1h-1zM621 48h1v1h-1zM621 49h1v1h-1zM622 44h1v1h-1z" fill="#3cdce6"/>
<path d="M85 333h1v1h-1zM85 334h1v1h-1zM85 335h1v1h-1zM85 336h1v1h-1zM85 337h1v1h-1zM85 338h1v1h-1zM85 339h1v1h-1zM85 340h1v1h-1zM85 341h1v1h-1zM86 333h1v1h-1zM86 341h1v1h-1zM87 333h1v1h-1zM87 341h1v1h-1zM88 333h1v1h-1zM88 341h1v1h-1zM89 333h1v1h-1zM89 341h1v1h-1zM90 333h1v1h-1zM90 341h1v1h-1zM91 333h1v1h-1zM91 341h1v1h-1zM92 333h1v1h-1zM92 341h1v1h-1zM93 333h1v1h-1zM93 334h1v1h-1zM93 335h1v1h-1zM93 336h1v1h-1zM93 337h1v1h-1zM93 338h1v1h-1zM93 339h1v1h-1zM93 340h1v1h-1zM93 341h1v1h-1zM173 318h1v1h-1zM173 319h1v1h-1zM173 320h1v1h-1zM173 321h1v1h-1zM173 322h1v1h-1zM173 323h1v1h-1zM173 324h1v1h-1zM173 325h1v1h-1zM173 326h1v1h-1zM174 318h1v1h-1zM174 326h1v1h-1zM175 318h1v1h-1zM175 326h1v1h-1zM176 318h1v1h-1zM176 326h1v1h-1zM177 318h1v1h-1zM177 326h1v1h-1zM178 318h1v1h-1zM178 326h1v1h-1zM179 318h1v1h-1zM179 326h1v1h-1zM180 318h1v1h-1zM180 326h1v1h-1zM181 318h1v1h-1zM181 319h1v1h-1zM181 320h1v1h-1zM181 321h1v1h-1zM181 322h1v1h-1zM181 323h1v1h-1zM181 324h1v1h-1zM181 325h1v1h-1zM181 326h1v1h-1zM261 263h1v1h-1zM261 264h1v1h-1zM261 265h1v1h-1zM261 266h1v1h-1zM261 267h1v1h-1zM261 268h1v1h-1zM261 269h1v1h-1zM261 270h1v1h-1zM261 271h1v1h-1zM262 263h1v1h-1zM262 271h1v1h-1zM263 263h1v1h-1zM263 271h1v1h-1zM264 263h1v1h-1zM264 271h1v1h-1zM265 263h1v1h-1zM265 271h1v1h-1zM266 263h1v1h-1zM266 271h1v1h-1zM267 263h1v1h-1zM267 271h1v1h-1zM268 263h1v1h-1zM268 271h1v1h-1zM269 263h1v1h-1zM269 264h1v1h-1zM269 265h1v1h-1zM269 266h1v1h-1zM269 267h1v1h-1zM269 268h1v1h-1zM269 269h1v1h-1zM269 270h1v1h-1zM269 271h1v1h-1zM349 232h1v1h-1zM349 233h1v1h-1zM349 234h1v1h-1zM349 235h1v1h-1zM349 236h1v1h-1zM349 237h1v1h-1zM349 238h1v1h-1zM349 239h1v1h-1zM349 240h1v1h-1zM350 232h1v1h-1zM350 240h1v1h-1zM351 232h1v1h-1zM351 240h1v1h-1zM352 232h1v1h-1zM352 240h1v1h-1zM353 232h1v1h-1zM353 240h1v1h-1zM354 232h1v1h-1zM354 240h1v1h-1zM355 232h1v1h-1zM355 240h1v1h-1zM356 232h1v1h-1zM356 240h1v1h-1zM357 232h1v1h-1zM357 233h1v1h-1zM357 234h1v1h-1zM357 235h1v1h-1zM357 236h1v1h-1zM357 237h1v1h-1zM357 238h1v1h-1zM357 239h1v1h-1zM357 240h1v1h-1zM437 191h1v1h-1zM437 192h1v1h-1zM437 193h1v1h-1zM437 194h1v1h-1zM437 195h1v1h-1zM437 196h1v1h-1zM437 197h1v1h-1zM437 198h1v1h-1zM437 199h1v1h-1zM438 191h1v1h-1zM438 199h1v1h-1zM439 191h1v1h-1zM439 199h1v1h-1zM440 191h1v1h-1zM440 199h1v1h-1zM441 191h1v1h-1zM441 199h1v1h-1zM442 191h1v1h-1zM442 199h1v1h-1zM443 191h1v1h-1zM443 199h1v1h-1zM444 191h1v1h-1zM444 199h1v1h-1zM445 191h1v1h-1zM445 192h1v1h-1zM445 193h1v1h-1zM445 194h1v1h-1zM445 195h1v1h-1zM445 196h1v1h-1zM445 197h1v1h-1zM445 198h1v1h-1zM445 199h1v1h-1zM525 104h1v1h-1zM525 105h1v1h-1zM525 106h1v1h-1zM525 107h1v1h-1zM525 108h1v1h-1zM525 109h1v1h-1zM525 110h1v1h-1zM525 111h1v1h-1zM525 112h1v1h-1zM526 104h1v1h-1zM526 112h1v1h-1zM527 104h1v1h-1zM527 112h1v1h-1zM528 104h1v1h-1zM528 112h1v1h-1zM529 104h1v1h-1zM529 112h1v1h-1zM530 104h1v1h-1zM530 112h1v1h-1zM531 104h1v1h-1zM531 112h1v1h-1zM532 104h1v1h-1zM532 112h1v1h-1zM533 104h1v1h-1zM533 105h1v1h-1zM533 106h1v1h-1zM533 107h1v1h-1zM533 108h1v1h-1zM533 109h1v1h-1zM533 110h1v1h-1zM533 111h1v1h-1zM533 112h1v1h-1zM614 58h1v1h-1zM614 59h1v1h-1zM614 60h1v1h-1zM614 61h1v1h-1zM614 62h1v1h-1zM614 63h1v1h-1zM614 64h1v1h-1zM614 65h1v1h-1zM614 66h1v1h-1zM615 58h1v1h-1zM615 66h1v1h-1zM616 58h1v1h-1zM616 66h1v1h-1zM617 58h1v1h-1zM617 66h1v1h-1zM618 58h1v1h-1zM618 66h1v1h-1zM619 58h1v1h-1zM619 66h1v1h-1zM620 58h1v1h-1zM620 66h1v1h-1zM621 58h1v1h-1zM621 66h1v1h-1zM622 58h1v1h-1zM622 59h1v1h-1zM622 60h1v1h-1zM622 61h1v1h-1zM622 62h1v1h-1zM622 63h1v1h-1zM622 64h1v1h-1zM622 65h1v1h-1zM622 66h1v1h-1z" fill="#3cd23c"/>
<path d="M85 337h1v1h-1zM86 337h1v1h-1zM87 335h1v1h-1zM87 337h1v1h-1zM87 339h1v1h-1zM88 336h1v1h-1zM88 337h1v1h-1zM88 338h1v1h-1zM89 333h1v1h-1zM89 334h1v1h-1zM89 335h1v1h-1zM89 336h1v1h-1zM89 337h1v1h-1zM89 338h1v1h-1zM89 339h1v1h-1zM89 340h1v1h-1zM89 341h1v1h-1zM90 336h1v1h-1zM90 337h1v1h-1zM90 338h1v1h-1zM91 335h1v1h-1zM91 337h1v1h-1zM91 339h1v1h-1zM92 337h1v1h-1zM93 337h1v1h-1zM173 329h1v1h-1zM174 329h1v1h-1zM175 327h1v1h-1zM175 329h1v1h-1zM175 331h1v1h-1zM176 328h1v1h-1zM176 329h1v1h-1zM176 330h1v1h-1zM177 325h1v1h-1zM177 326h1v1h-1zM177 327h1v1h-1zM177 328h1v1h-1zM177 329h1v1h-1zM177 330h1v1h-1zM177 331h1v1h-1zM177 332h1v1h-1zM177 333h1v1h-1zM178 328h1v1h-1zM178 329h1v1h-1zM178 330h1v1h-1zM179 327h1v1h-1zM179 329h1v1h-1zM179 331h1v1h-1zM180 329h1v1h-1zM181 329h1v1h-1zM261 290h1v1h-1zM262 290h1v1h-1zM263 288h1v1h-1zM263 290h1v1h-1zM263 292h1v1h-1zM264 289h1v1h-1zM264 290h1v1h-1zM264 291h1v1h-1zM265 286h1v1h-1zM265 287h1v1h-1zM265 288h1v1h-1zM265 289h1v1h-1zM265 290h1v1h-1zM265 291h1v1h-1zM265 292h1v1h-1zM265 293h1v1h-1zM265 294h1v1h-1zM266 289h1v1h-1zM266 290h1v1h-1zM266 291h1v1h-1zM267 288h1v1h-1zM267 290h1v1h-1zM267 292h1v1h-1zM268 290h1v1h-1zM269 290h1v1h-1zM349 262h1v1h-1zM350 262h1v1h-1zM351 260h1v1h-1zM351 262h1v1h-1zM351 264h1v1h-1zM352 261h1v1h-1zM352 262h1v1h-1zM352 263h1v1h-1zM353 258h1v1h-1zM353 259h1v1h-1zM353 260h1v1h-1zM353 261h1v1h-1zM353 262h1v1h-1zM353 263h1v1h-1zM353 264h1v1h-1zM353 265h1v1h-1zM353 266h1v1h-1zM354 261h1v1h-1zM354 262h1v1h-1zM354 263h1v1h-1zM355 260h1v1h-1zM355 262h1v1h-1zM355 264h1v1h-1zM356 262h1v1h-1zM357 262h1v1h-1zM437 239h1v1h-1zM438 239h1v1h-1zM439 237h1v1h-1zM439 239h1v1h-1zM439 241h1v1h-1zM440 238h1v1h-1zM440 239h1v1h-1zM440 240h1v1h-1zM441 235h1v1h-1zM441 236h1v1h-1zM441 237h1v1h-1zM441 238h1v1h-1zM441 239h1v1h-1zM441 240h1v1h-1zM441 241h1v1h-1zM441 242h1v1h-1zM441 243h1v1h-1zM442 238h1v1h-1zM442 239h1v1h-1zM442 240h1v1h-1zM443 237h1v1h-1zM443 239h1v1h-1zM443 241h1v1h-1zM444 239h1v1h-1zM445 239h1v1h-1zM525 167h1v1h-1zM526 167h1v1h-1zM527 165h1v1h-1zM527 167h1v1h-1zM527 169h1v1h-1zM528 166h1v1h-1zM528 167h1v1h-1zM528 168h1v1h-1zM529 163h1v1h-1zM529 164h1v1h-1zM529 165h1v1h-1zM529 166h1v1h-1zM529 167h1v1h-1zM529 168h1v1h-1zM529 169h1v1h-1zM529 170h1v1h-1zM529 171h1v1h-1zM530 166h1v1h-1zM530 167h1v1h-1zM530 168h1v1h-1zM531 165h1v1h-1zM531 167h1v1h-1zM531 169h1v1h-1zM532 167h1v1h-1zM533 167h1v1h-1zM614 115h1v1h-1zM615 115h1v1h-1zM616 113h1v1h-1zM616 115h1v1h-1zM616 117h1v1h-1zM617 114h1v1h-1zM617 115h1v1h-1zM617 116h1v1h-1zM618 111h1v1h-1zM618 112h1v1h-1zM618 113h1v1h-1zM618 114h1v1h-1zM618 115h1v1h-1zM618 116h1v1h-1zM618 117h1v1h-1zM618 118h1v1h-1zM618 119h1v1h-1zM619 114h1v1h-1zM619 115h1v1h-1zM619 116h1v1h-1zM620 113h1v1h-1zM620 115h1v1h-1zM620 117h1v1h-1zM621 115h1v1h-1zM622 115h1v1h-1z" fill="#c81414"/>
</g>
<path d="M89.5 347V341M89.5 29V35M177.5 347V341M177.5 29V35M265.5 347V341M265.5 29V35M353.5 347V341M353.5 29V35M441.5 347V341M441.5 29V35M529.5 347V341M529.5 29V35M618.5 347V341M618.5 29V35M89 346.5H95M619 346.5H613M89 317.5H95M619 317.5H613M89 288.5H95M619 288.5H613M89 259.5H95M619 259.5H613M89 230.5H95M619 230.5H613M89 201.5H95M619 201.5H613M89 173.5H95M619 173.5H613M89 144.5H95M619 144.5H613M89 115.5H95M619 115.5H613M89 86.5H95M619 86.5H613M89 57.5H95M619 57.5H613M89 29.5H95M619 29.5H613" stroke="#000" fill="none" shape-rendering="crispEdges"/>
<rect x="89.5" y="29.5" width="529" height="317" fill="none" stroke="#000" shape-rendering="crispEdges"/>
<text transform="translate(89.5,362) scale(1.06,1.16)" text-anchor="middle" stroke="#cccccc" stroke-width="0.05">1</text>
<text transform="translate(177.5,362) scale(1.06,1.16)" text-anchor="middle" stroke="#cccccc" stroke-width="0.05">2</text>
<text transform="translate(265.5,362) scale(1.06,1.16)" text-anchor="middle" stroke="#cccccc" stroke-width="0.05">3</text>
<text transform="translate(353.5,362) scale(1.06,1.16)" text-anchor="middle" stroke="#cccccc" stroke-width="0.05">4</text>
<text transform="translate(441.5,362) scale(1.06,1.16)" text-anchor="middle" stroke="#cccccc" stroke-width="0.05">5</text>
<text transform="translate(529.5,362) scale(1.06,1.16)" text-anchor="middle" stroke="#cccccc" stroke-width="0.05">6</text>
<text transform="translate(618.5,362) scale(1.06,1.16)" text-anchor="middle" stroke="#cccccc" stroke-width="0.05">7</text>
<text transform="translate(85.05,351) scale(1.03,1.16)" text-anchor="end" stroke="#cccccc" stroke-width="0.05">0.5</text>
<text transform="translate(85.05,322) scale(1.03,1.16)" text-anchor="end" stroke="#cccccc" stroke-width="0.05">1</text>
<text transform="translate(85.05,293) scale(1.03,1.16)" text-anchor="end" stroke="#cccccc" stroke-width="0.05">1.5</text>
<text transform="translate(85.05,264) scale(1.03,1.16)" text-anchor="end" stroke="#cccccc" stroke-width="0.05">2</text>
<text transform="translate(85.05,235) scale(1.03,1.16)" text-anchor="end" stroke="#cccccc" stroke-width="0.05">2.5</text>
<text transform="translate(85.05,206) scale(1.03,1.16)" text-anchor="end" stroke="#cccccc" stroke-width="0.05">3</text>
<text transform="translate(85.05,178) scale(1.03,1.16)" text-anchor="end" stroke="#cccccc" stroke-width="0.05">3.5</text>
<text transform="translate(85.05,149) scale(1.03,1.16)" text-anchor="end" stroke="#cccccc" stroke-width="0.05">4</text>
<text transform="translate(85.05,120) scale(1.03,1.16)" text-anchor="end" stroke="#cccccc" stroke-width="0.05">4.5</text>
<text transform="translate(85.05,91) scale(1.03,1.16)" text-anchor="end" stroke="#cccccc" stroke-width="0.05">5</text>
<text transform="translate(85.05,62) scale(1.03,1.16)" text-anchor="end" stroke="#cccccc" stroke-width="0.05">5.5</text>
<text transform="translate(85.05,34) scale(1.03,1.16)" text-anchor="end" stroke="#cccccc" stroke-width="0.05">6</text>
<text transform="translate(351.5,379) scale(0.976,1.16)" text-anchor="middle" stroke="#cccccc" stroke-width="0.05">Decomposition level</text>
<text transform="translate(56,188.5) rotate(-90) scale(1.015,1.16)" text-anchor="middle" stroke="#cccccc" stroke-width="0.05">time/s</text>
<rect x="100.5" y="36.5" width="191" height="98" fill="#ffffff" stroke="#000" shape-rendering="crispEdges"/>
<g shape-rendering="crispEdges">
<path d="M108 47.5H148" stroke="#16164c"/>
<path d="M124 47h1v1h-1zM125 47h1v1h-1zM126 47h1v1h-1zM127 47h1v1h-1zM128 43h1v1h-1zM128 44h1v1h-1zM128 45h1v1h-1zM128 46h1v1h-1zM128 47h1v1h-1zM128 48h1v1h-1zM128 49h1v1h-1zM128 50h1v1h-1zM128 51h1v1h-1zM129 47h1v1h-1zM130 47h1v1h-1zM131 47h1v1h-1zM132 47h1v1h-1z" fill="#1a1a78"/>
<path d="M108 66.5H148" stroke="#9c44a8"/>
<path d="M124 64h1v1h-1zM124 65h1v1h-1zM124 66h1v1h-1zM124 67h1v1h-1zM124 68h1v1h-1zM125 63h1v1h-1zM125 69h1v1h-1zM126 62h1v1h-1zM126 70h1v1h-1zM127 62h1v1h-1zM127 70h1v1h-1zM128 62h1v1h-1zM128 70h1v1h-1zM129 62h1v1h-1zM129 70h1v1h-1zM130 62h1v1h-1zM130 70h1v1h-1zM131 63h1v1h-1zM131 69h1v1h-1zM132 64h1v1h-1zM132 65h1v1h-1zM132 66h1v1h-1zM132 67h1v1h-1zM132 68h1v1h-1z" fill="#be28c8"/>
<path d="M108 85.5H148" stroke="#6ed0d4"/>
<path d="M124 83h1v1h-1zM125 83h1v1h-1zM125 84h1v1h-1zM125 87h1v1h-1zM125 88h1v1h-1zM126 83h1v1h-1zM126 85h1v1h-1zM126 86h1v1h-1zM126 88h1v1h-1zM127 82h1v1h-1zM127 83h1v1h-1zM127 87h1v1h-1zM128 81h1v1h-1zM128 87h1v1h-1zM129 82h1v1h-1zM129 83h1v1h-1zM129 87h1v1h-1zM130 83h1v1h-1zM130 85h1v1h-1zM130 86h1v1h-1zM130 88h1v1h-1zM131 83h1v1h-1zM131 84h1v1h-1zM131 87h1v1h-1zM131 88h1v1h-1zM132 83h1v1h-1z" fill="#3cdce6"/>
<path d="M108 103.5H148" stroke="#5ebe5e"/>
<path d="M124 99h1v1h-1zM124 100h1v1h-1zM124 101h1v1h-1zM124 102h1v1h-1zM124 103h1v1h-1zM124 104h1v1h-1zM124 105h1v1h-1zM124 106h1v1h-1zM124 107h1v1h-1zM125 99h1v1h-1zM125 107h1v1h-1zM126 99h1v1h-1zM126 107h1v1h-1zM127 99h1v1h-1zM127 107h1v1h-1zM128 99h1v1h-1zM128 107h1v1h-1zM129 99h1v1h-1zM129 107h1v1h-1zM130 99h1v1h-1zM130 107h1v1h-1zM131 99h1v1h-1zM131 107h1v1h-1zM132 99h1v1h-1zM132 100h1v1h-1zM132 101h1v1h-1zM132 102h1v1h-1zM132 103h1v1h-1zM132 104h1v1h-1zM132 105h1v1h-1zM132 106h1v1h-1zM132 107h1v1h-1z" fill="#3cd23c"/>
<path d="M108 122.5H148" stroke="#8e2e30"/>
<path d="M124 122h1v1h-1zM125 122h1v1h-1zM126 120h1v1h-1zM126 122h1v1h-1zM126 124h1v1h-1zM127 121h1v1h-1zM127 122h1v1h-1zM127 123h1v1h-1zM128 118h1v1h-1zM128 119h1v1h-1zM128 120h1v1h-1zM128 121h1v1h-1zM128 122h1v1h-1zM128 123h1v1h-1zM128 124h1v1h-1zM128 125h1v1h-1zM128 126h1v1h-1zM129 121h1v1h-1zM129 122h1v1h-1zM129 123h1v1h-1zM130 120h1v1h-1zM130 122h1v1h-1zM130 124h1v1h-1zM131 122h1v1h-1zM132 122h1v1h-1z" fill="#c81414"/>
</g>
<text transform="translate(152.5,53) scale(0.9915,1.16)" text-anchor="start" stroke="#ffffff" stroke-width="0.05">hyperbolic shrinkage</text>
<text transform="translate(152.5,72) scale(1.025,1.16)" text-anchor="start" stroke="#ffffff" stroke-width="0.05">MATS Method</text>
<text transform="translate(152.5,91) scale(0.97,1.16)" text-anchor="start" stroke="#ffffff" stroke-width="0.05">improved soft-threshold</text>
<text transform="translate(151.9,109) scale(0.985,1.16)" text-anchor="start" stroke="#ffffff" stroke-width="0.05">AdpMpHard</text>
<text transform="translate(151.9,128) scale(1.0,1.16)" text-anchor="start" stroke="#ffffff" stroke-width="0.05">this paper</text>
</svg></body></html>
